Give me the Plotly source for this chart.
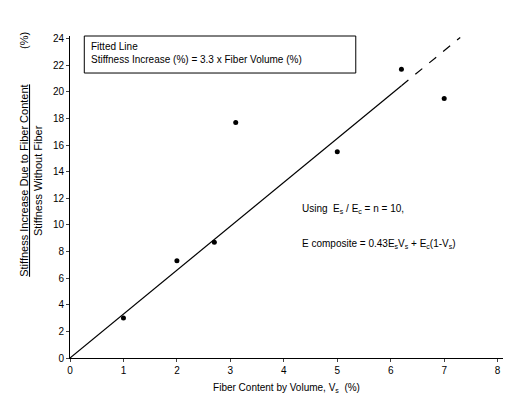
import plotly.graph_objects as go

fiber = [1.0, 2.0, 2.7, 3.1, 5.0, 6.2, 7.0]
stiff = [3.0, 7.3, 8.7, 17.7, 15.5, 21.7, 19.5]
slope = 3.3
solid_x = [0, 6.2]
dash_x = [6.2, 7.3]
xticks = [0, 1, 2, 3, 4, 5, 6, 7, 8]
yticks = [0, 2, 4, 6, 8, 10, 12, 14, 16, 18, 20, 22, 24]

F = "Liberation Sans"
fig = go.Figure()
fig.add_trace(go.Scatter(x=solid_x, y=[slope*v for v in solid_x], mode="lines",
                         line=dict(color="black", width=1.2), showlegend=False))
fig.add_trace(go.Scatter(x=dash_x, y=[slope*v for v in dash_x], mode="lines",
                         line=dict(color="black", width=1.2, dash="dash"), showlegend=False))
fig.add_trace(go.Scatter(x=fiber, y=stiff, mode="markers",
                         marker=dict(color="black", size=5), showlegend=False))

fig.update_layout(
    width=511, height=404, plot_bgcolor="white", paper_bgcolor="white",
    margin=dict(l=62, r=16, t=28, b=54),
    font=dict(family=F, size=10, color="black"),
    xaxis=dict(range=[0, 8.1], tickvals=xticks, showgrid=False, zeroline=False,
               showline=True, linecolor="black", ticks="outside", ticklen=3,
               tickfont=dict(size=10),
               title=dict(text="Fiber Content by Volume, V<sub>s</sub>  (%)", standoff=8, font=dict(size=10))),
    yaxis=dict(range=[0, 24.2], tickvals=yticks, showgrid=False, zeroline=False,
               showline=True, linecolor="black", ticks="outside", ticklen=3,
               tickfont=dict(size=10)),
    shapes=[dict(type="rect", xref="paper", yref="paper", x0=0.033, x1=0.66, y0=0.885, y1=1.0,
                 line=dict(color="black", width=1))],
    annotations=[
        dict(xref="paper", yref="paper", x=0.045, y=0.99, xanchor="left", yanchor="top", align="left",
             showarrow=False, text="Fitted Line<br>Stiffness Increase (%) = 3.3 x Fiber Volume (%)",
             font=dict(size=10)),
        dict(xref="paper", yref="paper", x=-0.125, y=0.55, textangle=-90, showarrow=False,
             text="<u>Stiffness Increase Due to Fiber Content</u>", font=dict(size=11)),
        dict(xref="paper", yref="paper", x=-0.092, y=0.55, textangle=-90, showarrow=False,
             text="Stiffness Without Fiber", font=dict(size=11)),
        dict(xref="paper", yref="paper", x=-0.125, y=1.02, textangle=-90, showarrow=False,
             text="(%)", font=dict(size=11)),
        dict(x=4.3, y=11.2, xanchor="left", showarrow=False, font=dict(size=10),
             text="Using  E<sub>s</sub> / E<sub>c</sub> = n = 10,"),
        dict(x=4.3, y=8.6, xanchor="left", showarrow=False, font=dict(size=10),
             text="E composite = 0.43E<sub>s</sub>V<sub>s</sub> + E<sub>c</sub>(1-V<sub>s</sub>)"),
    ],
)
fig.write_html("out.html")
